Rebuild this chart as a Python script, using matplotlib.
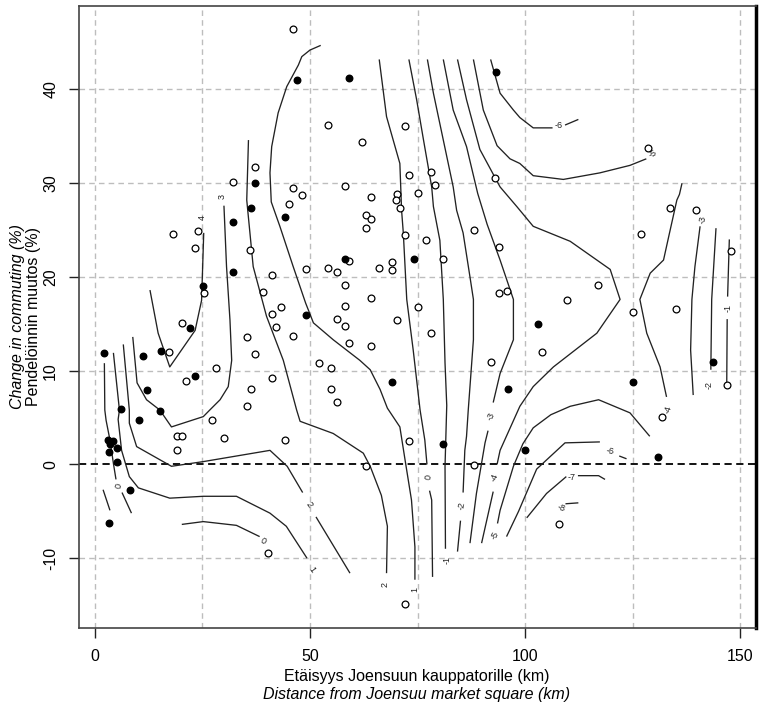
import matplotlib
matplotlib.use("Agg")
import matplotlib.pyplot as plt

plt.rcParams['font.family'] = ['Liberation Sans', 'DejaVu Sans']

# municipalities: distance (km) vs change in commuting (%)
open_x = [46.1, 37.2, 32.1, 46.1, 48.1, 45.2, 54.2, 72.1, 62.1, 73.0, 78.2, 79.0, 58.1, 64.1,
          70.2, 70.0, 75.0, 70.9, 93.0, 128.7, 18.2, 24.0, 23.3, 36.0, 41.2, 49.1, 39.1, 25.4,
          43.2, 41.2, 42.2, 46.1, 20.2, 35.3, 17.2, 37.2, 28.1, 21.1, 41.2, 36.2, 35.3, 63.0,
          64.1, 63.0, 72.1, 77.0, 88.1, 94.0, 59.1, 81.0, 69.0, 69.0, 66.1, 54.1, 56.2, 58.1,
          64.1, 58.1, 94.0, 95.9, 75.0, 56.2, 58.1, 70.2, 78.1, 59.1, 64.1, 52.2, 55.0, 92.0,
          55.0, 56.2, 133.7, 139.8, 127.0, 147.8, 116.9, 109.8, 125.0, 135.0, 103.9, 146.9,
          27.2, 19.0, 20.2, 30.1, 44.1, 19.2, 40.2, 73.0, 63.0, 88.1, 72.1, 131.8, 107.9]
open_y = [46.4, 31.7, 30.1, 29.5, 28.7, 27.8, 36.2, 36.1, 34.4, 30.9, 31.2, 29.8, 29.7, 28.5,
          28.8, 28.2, 29.0, 27.4, 30.6, 33.7, 24.6, 24.9, 23.1, 22.9, 20.2, 20.8, 18.4, 18.3,
          16.8, 16.0, 14.7, 13.7, 15.1, 13.6, 12.0, 11.8, 10.3, 8.9, 9.2, 8.0, 6.2, 26.6,
          26.2, 25.2, 24.5, 23.9, 25.0, 23.2, 21.7, 21.9, 21.6, 20.7, 20.9, 21.0, 20.5, 19.1,
          17.8, 16.9, 18.3, 18.5, 16.8, 15.5, 14.8, 15.4, 14.0, 12.9, 12.6, 10.8, 10.3, 10.9,
          8.0, 6.7, 27.3, 27.1, 24.6, 22.8, 19.1, 17.5, 16.3, 16.6, 12.0, 8.5,
          4.7, 3.0, 3.0, 2.8, 2.6, 1.5, -9.4, 2.5, -0.2, -0.1, -14.9, 5.1, -6.4]

filled_x = [47.1, 37.2, 36.2, 59.1, 93.2, 44.2, 32.1, 32.1, 25.2, 49.1, 22.1, 2.1, 11.2, 15.3,
            23.3, 12.2, 6.1, 15.1, 58.1, 74.2, 69.0, 96.0, 103.1, 143.8, 125.0, 10.2, 3.1, 4.1,
            3.5, 5.2, 3.2, 5.2, 8.1, 3.3, 81.0, 100.0, 131.0]
filled_y = [41.0, 30.0, 27.3, 41.2, 41.9, 26.4, 25.9, 20.5, 19.0, 15.9, 14.5, 11.9, 11.6, 12.1,
            9.4, 7.9, 5.9, 5.7, 21.9, 21.9, 8.8, 8.0, 15.0, 10.9, 8.8, 4.7, 2.6, 2.5,
            2.2, 1.8, 1.3, 0.3, -2.7, -6.2, 2.2, 1.5, 0.8]

# contour lines, (x, y) pairs
c_p4 = [(12.8, 18.6), (14.7, 14.0), (17.4, 10.4), (23.3, 14.3), (24.8, 17.5), (25.3, 24.7)]
c_p3 = [(30.0, 27.6), (30.6, 21.1), (31.4, 15.4), (31.8, 11.1), (31.0, 8.3), (29.1, 6.9),
        (26.7, 5.8), (25.2, 5.1), (17.8, 4.0), (15.1, 5.8), (12.0, 6.9), (9.8, 8.7), (8.8, 13.6)]
c_p2a = [(35.7, 34.6), (35.3, 28.2), (36.8, 21.1), (39.9, 15.8), (43.8, 11.1), (46.9, 5.8),
         (47.7, 4.6), (55.4, 3.3), (62.4, 1.2), (64.0, -0.2), (66.6, -3.3), (68.0, -6.6),
         (67.8, -11.6)]
c_p2b = [(6.6, 12.8), (8.0, 5.8), (8.0, 4.4), (9.7, 1.9), (17.8, -0.2), (25.2, 0.3), (40.7, 1.5),
         (44.7, -0.2), (48.3, -3.0)]
c_p2c = [(51.4, -5.6), (59.3, -11.6)]
c_p1a = [(52.5, 44.7), (50.0, 44.2), (48.1, 43.5), (47.3, 42.6), (44.6, 40.3), (42.6, 37.5),
         (41.1, 33.9), (40.7, 31.1), (41.0, 28.0), (43.0, 25.4), (46.1, 21.1), (49.0, 17.2),
         (50.8, 15.1), (55.4, 13.3), (61.6, 11.1), (64.0, 10.1), (66.3, 8.0), (68.0, 6.0),
         (70.9, 4.0), (72.1, 0.5), (73.6, -3.8), (74.4, -8.8), (74.4, -12.3)]
c_p1b = [(4.3, 11.9), (5.7, 5.8), (5.4, 4.8), (6.2, 1.5), (8.0, -1.3), (10.1, -2.5), (17.4, -3.6),
         (25.2, -3.4), (32.9, -3.4), (40.7, -5.2), (44.5, -6.6), (49.3, -10.0)]
c_z0a = [(2.2, 10.8), (2.3, 5.8), (2.6, 4.7), (3.5, 2.6), (4.3, 0.1), (4.9, -1.6)]
c_z0b = [(6.3, -3.0), (8.5, -5.2)]
c_z0c = [(20.2, -6.4), (25.2, -6.1), (32.9, -6.5), (38.3, -7.7)]
c_z0d = [(66.1, 43.2), (67.8, 37.1), (70.9, 32.1), (71.3, 27.1), (71.7, 24.7), (72.5, 17.6),
         (74.0, 12.2), (75.6, 5.8), (76.7, 2.6), (77.2, 0.0)]
c_z0e = [(77.8, -2.8), (78.3, -3.8), (78.5, -12.0)]
c_m1a = [(73.0, 43.2), (74.8, 38.9), (76.4, 34.6), (78.3, 29.6), (78.7, 27.5), (80.2, 23.9),
         (81.0, 17.6), (81.4, 10.8), (81.8, 6.3), (81.4, -0.2), (81.5, -9.0)]
c_m1b = [(1.9, -2.7), (3.5, -4.9)]
c_m1c = [(147.5, 24.0), (147.1, 17.9)]
c_m1d = [(147.0, 15.5), (146.9, 8.8)]
c_m2a = [(77.3, 43.2), (78.7, 39.6), (81.0, 34.6), (83.3, 29.6), (84.1, 27.1), (85.6, 24.7),
         (87.2, 20.0), (88.0, 17.6), (88.0, 13.3), (86.8, 5.8), (86.4, 3.0), (86.0, 1.5),
         (85.6, -3.0)]
c_m2b = [(85.0, -6.0), (84.3, -9.3)]
c_m2c = [(144.4, 25.2), (143.4, 17.6), (143.2, 10.1)]
c_m3a = [(81.0, 43.2), (83.3, 37.8), (86.4, 33.9), (89.0, 28.9), (91.2, 25.6), (94.2, 21.8),
         (97.3, 17.6), (97.3, 13.3), (94.2, 9.7), (92.6, 6.6)]
c_m3b = [(91.4, 3.6), (90.7, 2.3), (88.7, -3.1), (87.2, -8.4)]
c_m3c = [(140.7, 25.4), (139.5, 21.1), (138.8, 17.6), (138.5, 12.2), (139.1, 7.4)]
c_m4a = [(84.3, 43.2), (86.4, 38.9), (89.5, 33.6), (94.2, 29.6), (98.1, 27.5), (101.9, 25.4),
         (110.5, 23.8), (119.8, 20.8), (122.1, 17.6), (116.7, 14.0), (106.6, 10.4),
         (101.9, 8.3), (98.8, 6.2), (94.2, 1.5), (93.5, 0.0)]
c_m4b = [(92.6, -2.9), (89.9, -8.4)]
c_m4c = [(136.5, 30.0), (135.9, 28.8), (135.3, 28.2), (133.5, 24.5), (132.2, 21.8), (129.1, 20.4),
         (126.7, 17.6), (128.3, 14.0), (131.4, 10.4), (132.9, 7.2)]
c_m5a = [(88.0, 43.2), (90.3, 37.8), (93.5, 34.0), (96.5, 32.6), (98.8, 32.1), (101.9, 30.8),
         (108.9, 30.4), (117.4, 31.1), (124.4, 31.9), (128.2, 32.6)]
c_m5b = [(93.6, -6.3), (94.2, -4.9), (97.3, -0.2), (99.5, 2.2), (101.9, 3.9), (106.0, 5.3),
         (110.5, 6.2), (117.1, 6.9), (124.4, 5.5), (129.0, 3.0)]
c_m6a = [(92.0, 43.2), (94.2, 39.6), (97.3, 37.8), (98.8, 37.0), (101.9, 35.9), (106.4, 35.9)]
c_m6b = [(109.3, 36.2), (112.4, 36.8)]
c_m6c = [(95.7, -7.7), (98.5, -5.0), (102.7, -0.5), (109.3, 2.3), (117.4, 2.4)]
c_m6d = [(121.9, 0.9), (123.6, 0.6)]
c_m7a = [(100.4, -5.7), (105.0, -3.1), (109.6, -1.3)]
c_m7b = [(112.3, -1.2), (117.1, -1.2), (118.6, -1.6)]
c_m8 = [(109.4, -4.2), (112.4, -4.1)]

contour_lines = [c_p4, c_p3, c_p2a, c_p2b, c_p2c, c_p1a, c_p1b, c_z0a, c_z0b, c_z0c, c_z0d,
                 c_z0e, c_m1a, c_m1b, c_m1c, c_m1d, c_m2a, c_m2b, c_m2c, c_m3a, c_m3b, c_m3c,
                 c_m4a, c_m4b, c_m4c, c_m5a, c_m5b, c_m6a, c_m6b, c_m6c, c_m6d, c_m7a, c_m7b,
                 c_m8]

# contour labels: text, x, y, rotation
label_txt = ['4', '3', '2', '2', '1', '1', '0', '0', '0', '-1', '-1', '-2', '-2', '-3', '-3',
             '-4', '-4', '-5', '-5', '-6', '-6', '-7', '-8']
label_x = [24.9, 29.6, 67.5, 49.8, 74.4, 50.5, 5.5, 39.2, 77.5, 81.8, 147.1, 85.3, 142.8,
           92.0, 141.3, 93.0, 133.4, 129.6, 93.0, 107.9, 119.8, 110.9, 108.3]
label_y = [26.3, 28.6, -12.8, -4.3, -13.3, -11.2, -2.3, -8.2, -1.4, -10.2, 16.7, -4.4, 8.5,
           5.1, 26.1, -1.4, 5.9, 33.1, -7.6, 36.1, 1.4, -1.4, -4.7]
label_rot = [90, 90, 90, -55, 90, -55, 75, -30, 80, 90, 90, 80, 90,
             65, 80, 70, 75, 30, 65, 0, -10, 0, -20]

fig = plt.figure(figsize=(7.62, 7.04), dpi=100)
ax = fig.add_axes([79 / 762, 1 - 628 / 704, 677 / 762, 622 / 704])

for xv in [0, 25, 50, 75, 100, 125, 150]:
    ax.axvline(xv, color='#bdbdbd', lw=1.0, ls=(0, (4, 3)), zorder=0)
for yv in [-10, 10, 20, 30, 40]:
    ax.axhline(yv, color='#bdbdbd', lw=1.0, ls=(0, (4, 3)), zorder=0)
ax.axhline(0, color='black', lw=1.3, ls=(0, (4, 2.5)), zorder=1)

for seg in contour_lines:
    ax.plot([p[0] for p in seg], [p[1] for p in seg], color='#222222', lw=0.95, zorder=2,
            solid_capstyle='butt')

for t, lx, ly, r in zip(label_txt, label_x, label_y, label_rot):
    ax.text(lx, ly, t, fontsize=6.5, rotation=r, ha='center', va='center', color='#222222',
            rotation_mode='anchor', zorder=3)

ax.scatter(open_x, open_y, s=24, facecolors='white', edgecolors='black', linewidths=0.9, zorder=4)
ax.scatter(filled_x, filled_y, s=22, color='black', zorder=4)

ax.set_xlim(-3.7, 153.7)
ax.set_ylim(-17.45, 48.9)
ax.set_xticks([0, 50, 100, 150])
ax.set_yticks([-10, 0, 10, 20, 30, 40])
ax.set_yticklabels(['-10', '0', '10', '20', '30', '40'], rotation=90, va='center')
ax.tick_params(direction='out', length=7, width=1, labelsize=11.5, pad=8, color='#222222')

for side in ['left', 'bottom', 'top']:
    ax.spines[side].set_color('#444444')
    ax.spines[side].set_linewidth(1.2)
ax.spines['right'].set_color('black')
ax.spines['right'].set_linewidth(2.5)

fig.text(417 / 762, 1 - 676 / 704, 'Etäisyys Joensuun kauppatorille (km)', ha='center',
         va='center', fontsize=11.5)
fig.text(417 / 762, 1 - 694 / 704, 'Distance from Joensuu market square (km)', ha='center',
         va='center', fontsize=11.5, style='italic')
fig.text(18 / 762, 1 - 317 / 704, 'Change in commuting (%)', ha='center', va='center',
         rotation=90, fontsize=11.5, style='italic')
fig.text(34 / 762, 1 - 317 / 704, 'Pendelöinnin muutos (%)', ha='center', va='center',
         rotation=90, fontsize=11.5)

fig.savefig('out.png', dpi=100)
